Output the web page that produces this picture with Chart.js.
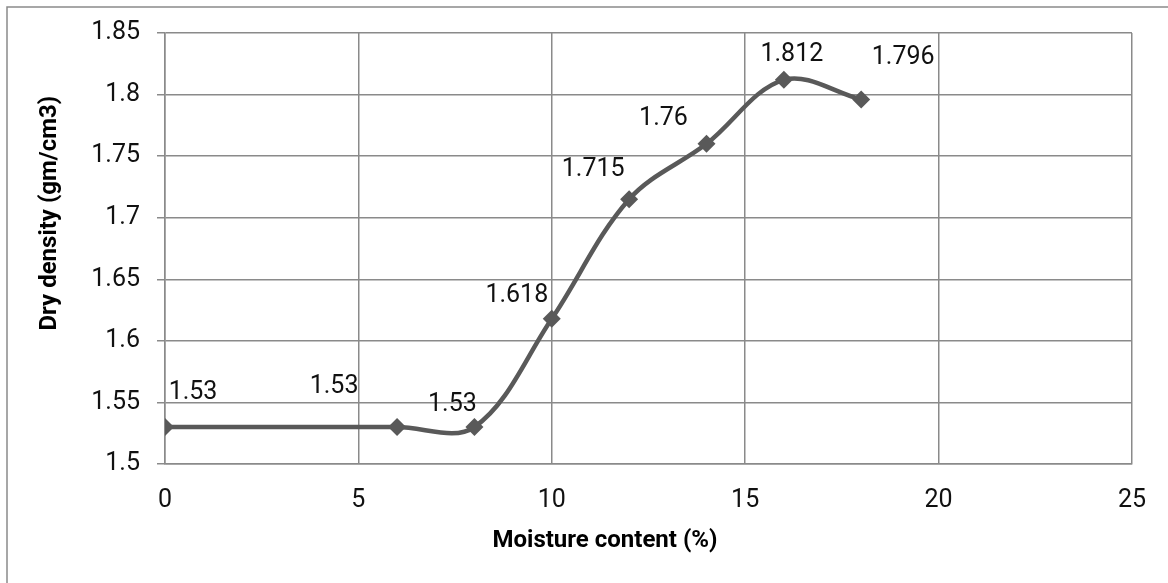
<!DOCTYPE html>
<html>
<head>
<meta charset="utf-8">
<script src="https://cdn.jsdelivr.net/npm/chart.js@4.4.1/dist/chart.umd.min.js"></script>
<style>
  html, body { margin: 0; padding: 0; background: #fff; }
  #wrap { width: 1168px; height: 583px; }
</style>
</head>
<body>
<div id="wrap"><canvas id="chart"></canvas></div>
<script>
// moisture content (%) vs dry density (gm/cm3)
const moisture = [0, 6, 8, 10, 12, 14, 16, 18];
const dryDensity = [1.53, 1.53, 1.53, 1.618, 1.715, 1.76, 1.812, 1.796];
const xTicks = [0, 5, 10, 15, 20, 25];
const yTicks = [1.5, 1.55, 1.6, 1.65, 1.7, 1.75, 1.8, 1.85];
const yTickLabels = ['1.5', '1.55', '1.6', '1.65', '1.7', '1.75', '1.8', '1.85'];

// where each value label sits relative to its point (px)
const labelDx = [28, -63, -22, -35, -36, -43, 8, 42];
const labelDy = [-34, -40, -22, -23, -29, -25, -25, -42];

const FONT = "Roboto, 'Liberation Sans', sans-serif";
const GRID = '#8a8a8a';

const pagePlugin = {
  id: 'page',
  beforeDraw(chart) {
    const ctx = chart.ctx;
    ctx.save();
    ctx.fillStyle = '#fff';
    ctx.fillRect(0, 0, chart.width, chart.height);
    ctx.strokeStyle = GRID;
    ctx.lineWidth = 1.5;
    ctx.beginPath();
    ctx.moveTo(7, chart.height);
    ctx.lineTo(7, 7);
    ctx.lineTo(chart.width, 7);
    ctx.stroke();
    ctx.restore();
  },
  afterDatasetsDraw(chart) {
    const ctx = chart.ctx;
    const pts = chart.getDatasetMeta(0).data;
    ctx.save();
    ctx.font = '25px ' + FONT;
    ctx.fillStyle = '#111';
    ctx.textAlign = 'center';
    ctx.textBaseline = 'middle';
    pts.forEach((p, i) => {
      ctx.fillText(String(dryDensity[i]), p.x + labelDx[i], p.y + labelDy[i]);
    });
    ctx.restore();
  },
  afterDraw(chart) {
    const ctx = chart.ctx;
    const a = chart.chartArea;
    ctx.save();
    ctx.font = 'bold 24px ' + FONT;
    ctx.fillStyle = '#000';
    ctx.textAlign = 'center';
    ctx.textBaseline = 'middle';
    ctx.fillText('Moisture content (%)', a.left + (a.right - a.left) * 0.455, 541);
    ctx.translate(50, a.top + (a.bottom - a.top) * 0.418);
    ctx.rotate(-Math.PI / 2);
    ctx.fillText('Dry density (gm/cm3)', 0, 0);
    ctx.restore();
  }
};

new Chart(document.getElementById('chart'), {
  type: 'scatter',
  data: {
    datasets: [{
      label: 'Dry density',
      data: moisture.map((m, i) => ({ x: m, y: dryDensity[i] })),
      showLine: true,
      tension: 0.35,
      borderColor: '#595959',
      backgroundColor: '#595959',
      borderWidth: 4.5,
      pointStyle: 'rectRot',
      pointRadius: 9,
      pointHoverRadius: 9,
      pointBorderWidth: 0
    }]
  },
  options: {
    responsive: true,
    maintainAspectRatio: false,
    animation: false,
    layout: { padding: { top: 33, right: 34, left: 0, bottom: 0 } },
    plugins: {
      legend: { display: false },
      tooltip: { enabled: false }
    },
    scales: {
      x: {
        type: 'linear',
        min: 0,
        max: 25,
        afterBuildTicks: s => { s.ticks = xTicks.map(v => ({ value: v })); },
        afterFit: s => { s.height = 583 - 464; },
        ticks: {
          font: { family: FONT, size: 25 },
          color: '#111',
          padding: 22,
          maxRotation: 0,
          callback: v => String(v)
        },
        grid: { color: GRID, lineWidth: 1.5, drawTicks: false },
        border: { color: GRID, width: 1.5 }
      },
      y: {
        min: 1.5,
        max: 1.85,
        afterBuildTicks: s => { s.ticks = yTicks.map(v => ({ value: v })); },
        afterFit: s => { s.width = 165; },
        ticks: {
          font: { family: FONT, size: 25 },
          color: '#111',
          padding: 17,
          callback: (v, i) => yTickLabels[i]
        },
        grid: { color: GRID, lineWidth: 1.5, tickLength: 8, tickColor: GRID },
        border: { color: GRID, width: 1.5 }
      }
    }
  },
  plugins: [pagePlugin]
});
</script>
</body>
</html>
